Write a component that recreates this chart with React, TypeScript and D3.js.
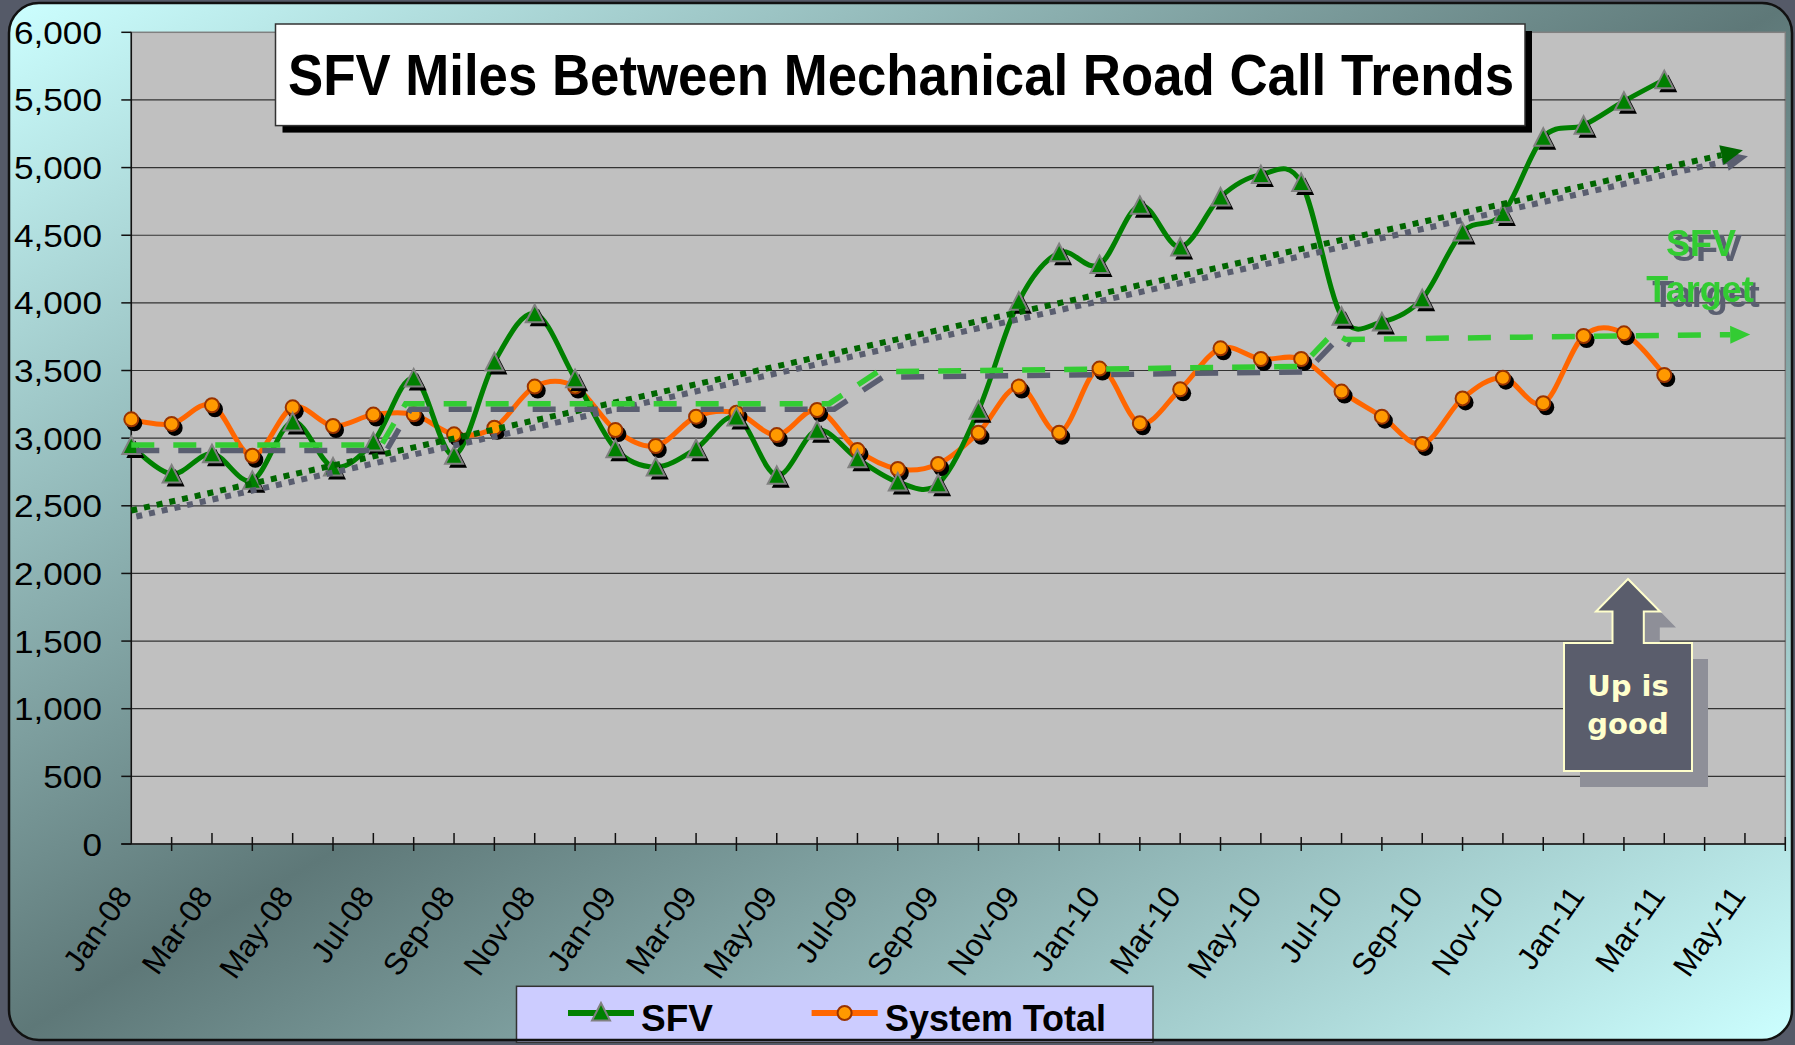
import React, { useEffect } from 'react';
import * as d3 from 'd3';

// categories on the x axis (Jan-08 .. Jun-11)
const months = [
  'Jan-08', 'Feb-08', 'Mar-08', 'Apr-08', 'May-08', 'Jun-08', 'Jul-08', 'Aug-08', 'Sep-08', 'Oct-08', 'Nov-08', 'Dec-08',
  'Jan-09', 'Feb-09', 'Mar-09', 'Apr-09', 'May-09', 'Jun-09', 'Jul-09', 'Aug-09', 'Sep-09', 'Oct-09', 'Nov-09', 'Dec-09',
  'Jan-10', 'Feb-10', 'Mar-10', 'Apr-10', 'May-10', 'Jun-10', 'Jul-10', 'Aug-10', 'Sep-10', 'Oct-10', 'Nov-10', 'Dec-10',
  'Jan-11', 'Feb-11', 'Mar-11', 'Apr-11', 'May-11', 'Jun-11',
];

const sfv = [
  2945, 2735, 2885, 2688, 3120, 2787, 2972, 3445, 2873, 3563, 3920, 3440,
  2922, 2787, 2922, 3157, 2725, 3058, 2848, 2676, 2663, 3206, 4012, 4371,
  4283, 4721, 4413, 4783, 4948, 4890, 3901, 3859, 4031, 4524, 4660, 5224,
  5313, 5490, 5650,
];

const systemTotal = [
  3139, 3105, 3243, 2870, 3228, 3090, 3174, 3176, 3028, 3077, 3381, 3381,
  3060, 2942, 3159, 3188, 3023, 3208, 2912, 2772, 2809, 3040, 3381, 3040,
  3514, 3110, 3361, 3664, 3585, 3585, 3344, 3159, 2957, 3294, 3447, 3258,
  3755, 3775, 3467,
];

const yTicks = [0, 500, 1000, 1500, 2000, 2500, 3000, 3500, 4000, 4500, 5000, 5500, 6000];

// dotted trend arrow (category index, value)
const trendIdx = [0, 39.95];
const trendVal = [2465, 5128];

// dashed SFV target steps (category index, value)
const targetIdx = [0, 6.2, 6.8, 17.3, 18.5, 29.0, 29.8, 30.1, 40.13];
const targetVal = [2950, 2950, 3255, 3255, 3490, 3530, 3780, 3730, 3767];

const W = 1795;
const H = 1045;
const font = '"Liberation Sans", Arial, sans-serif';

function arrow(x1, y1, x2, y2, len, hw) {
  const dx = x2 - x1, dy = y2 - y1;
  const L = Math.hypot(dx, dy);
  const ux = dx / L, uy = dy / L;
  const bx = x2 - ux * len, by = y2 - uy * len;
  return {
    base: [bx, by],
    path: `M${x2},${y2}L${bx - uy * hw},${by + ux * hw}L${bx + uy * hw},${by - ux * hw}Z`,
  };
}

const tri = 'M0,-9L9,8.5L-9,8.5Z';

export default function App() {
  useEffect(() => {
    document.body.style.margin = '0';
  }, []);

  const plotL = 131.3, plotR = 1785.3, plotT = 32.3, plotB = 844;
  const x = d3.scaleLinear().domain([0, months.length - 1]).range([plotL, plotR]);
  const y = d3.scaleLinear().domain([0, 6000]).range([plotB, plotT]);

  const smooth = d3.line<number>()
    .x((d, i) => x(i))
    .y(d => y(d))
    .curve(d3.curveCardinal.tension(0));
  const poly = d3.line();

  // trend
  const tx1 = x(trendIdx[0]), ty1 = y(trendVal[0]);
  const tx2 = x(trendIdx[1]), ty2 = y(trendVal[1]);
  const trendArrow = arrow(tx1, ty1, tx2, ty2, 22, 10);
  const trendLine = poly([[tx1, ty1], trendArrow.base as [number, number]]);

  // target
  const tPts = targetIdx.map((t, k) => [x(t), y(targetVal[k])] as [number, number]);
  const n = tPts.length;
  const targetArrow = arrow(tPts[n - 2][0], tPts[n - 2][1], tPts[n - 1][0], tPts[n - 1][1], 20, 9);
  const targetLine = poly([...tPts.slice(0, n - 1), targetArrow.base as [number, number]]);
  const targetShadow = poly(tPts.slice(0, 8));

  const upPath = 'M1564,643L1612.5,643L1612.5,611.5L1596,611.5L1628,579L1660,611.5L1643.8,611.5L1643.8,643L1692,643L1692,771L1564,771Z';

  return (
    <svg width={W} height={H} style={{ display: 'block' }} fontFamily={font}>
      <defs>
        <linearGradient id="bg" x1="0" y1="0" x2="1" y2="1">
          <stop offset="0" stopColor="#ccffff" />
          <stop offset="0.5" stopColor="#5e7878" />
          <stop offset="1" stopColor="#ccffff" />
        </linearGradient>
        <filter id="tshadow" x="-20%" y="-20%" width="150%" height="160%">
          <feOffset in="SourceAlpha" dx="6" dy="5" result="off" />
          <feFlood floodColor="#5a5e70" />
          <feComposite in2="off" operator="in" result="sh" />
          <feMerge>
            <feMergeNode in="sh" />
            <feMergeNode in="SourceGraphic" />
          </feMerge>
        </filter>
      </defs>
      <rect x={0} y={0} width={W} height={H} fill="#555a68" />
      <rect x={9} y={3} width={1783} height={1037} rx={30} fill="url(#bg)" />

      {/* plot area */}
      <rect x={plotL} y={plotT} width={plotR - plotL} height={plotB - plotT} fill="#c0c0c0" stroke="#808080" strokeWidth={1.5} />
      {yTicks.slice(1, -1).map(v => (
        <line key={v} x1={plotL} x2={plotR} y1={y(v)} y2={y(v)} stroke="#333" strokeWidth={1.2} />
      ))}

      {/* y axis */}
      <line x1={plotL} x2={plotL} y1={plotT} y2={plotB} stroke="#111" strokeWidth={1.5} />
      {yTicks.map(v => (
        <g key={v}>
          <line x1={plotL - 10} x2={plotL} y1={y(v)} y2={y(v)} stroke="#111" strokeWidth={1.5} />
          <text transform={`translate(102,${y(v)}) scale(1.1,1)`} dy="0.36em" textAnchor="end" fontSize={32} fill="#000">
            {d3.format(',')(v)}
          </text>
        </g>
      ))}

      {/* x axis */}
      <line x1={plotL - 10} x2={plotR} y1={plotB} y2={plotB} stroke="#111" strokeWidth={1.5} />
      {months.map((m, i) => i === 0 ? null : (
        i % 2 === 0
          ? <line key={m} x1={x(i)} x2={x(i)} y1={plotB - 11} y2={plotB} stroke="#111" strokeWidth={1.5} />
          : <line key={m} x1={x(i)} x2={x(i)} y1={plotB - 7} y2={plotB + 7} stroke="#111" strokeWidth={1.5} />
      ))}
      {months.map((m, i) => i % 2 === 0 ? (
        <text key={m} transform={`translate(${x(i) + 2},896) rotate(-55)`} textAnchor="end" fontSize={31} fill="#000">
          {m}
        </text>
      ) : null)}

      {/* series lines */}
      <path d={smooth(systemTotal) || ''} fill="none" stroke="#ff6600" strokeWidth={5} />
      <path d={smooth(sfv) || ''} fill="none" stroke="#008000" strokeWidth={5} />

      {/* markers */}
      {systemTotal.map((v, i) => (
        <g key={'o' + i}>
          <circle cx={x(i) + 3} cy={y(v) + 4} r={8} fill="#000" />
          <circle cx={x(i)} cy={y(v)} r={7} fill="#ff9900" stroke="#993300" strokeWidth={2} />
        </g>
      ))}
      {sfv.map((v, i) => (
        <g key={'t' + i}>
          <path d={tri} transform={`translate(${x(i) + 4},${y(v) + 4})`} fill="#000" />
          <path d={tri} transform={`translate(${x(i)},${y(v)})`} fill="#008000" stroke="#808080" strokeWidth={2} />
        </g>
      ))}

      {/* trend arrow */}
      <g transform="translate(5,6)">
        <path d={trendLine || ''} fill="none" stroke="#5a5e70" strokeWidth={6} strokeDasharray="6 7" />
        <path d={trendArrow.path} fill="#5a5e70" />
      </g>
      <path d={trendLine || ''} fill="none" stroke="#006600" strokeWidth={6} strokeDasharray="6 7" />
      <path d={trendArrow.path} fill="#006600" />

      {/* target */}
      <path d={targetShadow || ''} transform="translate(5,5.5)" fill="none" stroke="#5a5e70" strokeWidth={5.5} strokeDasharray="23 19" />
      <path d={targetLine || ''} fill="none" stroke="#33cc33" strokeWidth={5.5} strokeDasharray="23 19" />
      <path d={targetArrow.path} fill="#33cc33" />

      <text fontWeight="bold" fontSize={36} textAnchor="middle" fill="#33cc33" filter="url(#tshadow)">
        <tspan x={1701} y={256}>SFV</tspan>
        <tspan x={1700} y={302}>Target</tspan>
      </text>

      {/* up is good */}
      <path d={upPath} transform="translate(16,16)" fill="#8e8f98" />
      <path d={upPath} fill="#5a5d6c" stroke="#ffffcc" strokeWidth={2} />
      <text fontFamily='"DejaVu Sans", Verdana, sans-serif' fontWeight="bold" fontSize={29} fill="#ffffcc" textAnchor="middle">
        <tspan x={1628} y={696}>Up is</tspan>
        <tspan x={1628} y={734}>good</tspan>
      </text>

      {/* title */}
      <rect x={282.5} y={31} width={1249.5} height={101.6} fill="#000" />
      <rect x={275.5} y={24} width={1249.5} height={101.6} fill="#fff" stroke="#333" strokeWidth={1.5} />
      <text x={288} y={95} fontSize={57} fontWeight="bold" fill="#000" textLength={1226} lengthAdjust="spacingAndGlyphs">
        SFV Miles Between Mechanical Road Call Trends
      </text>

      {/* legend */}
      <rect x={516.5} y={986.3} width={636.5} height={56} fill="#ccccff" stroke="#333" strokeWidth={1.5} />
      <line x1={568} x2={634} y1={1013} y2={1013} stroke="#008000" strokeWidth={6} />
      <path d={tri} transform="translate(601,1012)" fill="#008000" stroke="#808080" strokeWidth={2} />
      <text x={641} y={1031} fontSize={37} fontWeight="bold" fill="#000">SFV</text>
      <line x1={811.6} x2={877.7} y1={1013} y2={1013} stroke="#ff6600" strokeWidth={6} />
      <circle cx={844.6} cy={1013} r={7} fill="#ff9900" stroke="#993300" strokeWidth={2} />
      <text x={885} y={1031} fontSize={37} fontWeight="bold" fill="#000" textLength={221} lengthAdjust="spacingAndGlyphs">System Total</text>

      {/* frame */}
      <rect x={9} y={3} width={1783} height={1037} rx={30} fill="none" stroke="#111" strokeWidth={2.5} />
    </svg>
  );
}
